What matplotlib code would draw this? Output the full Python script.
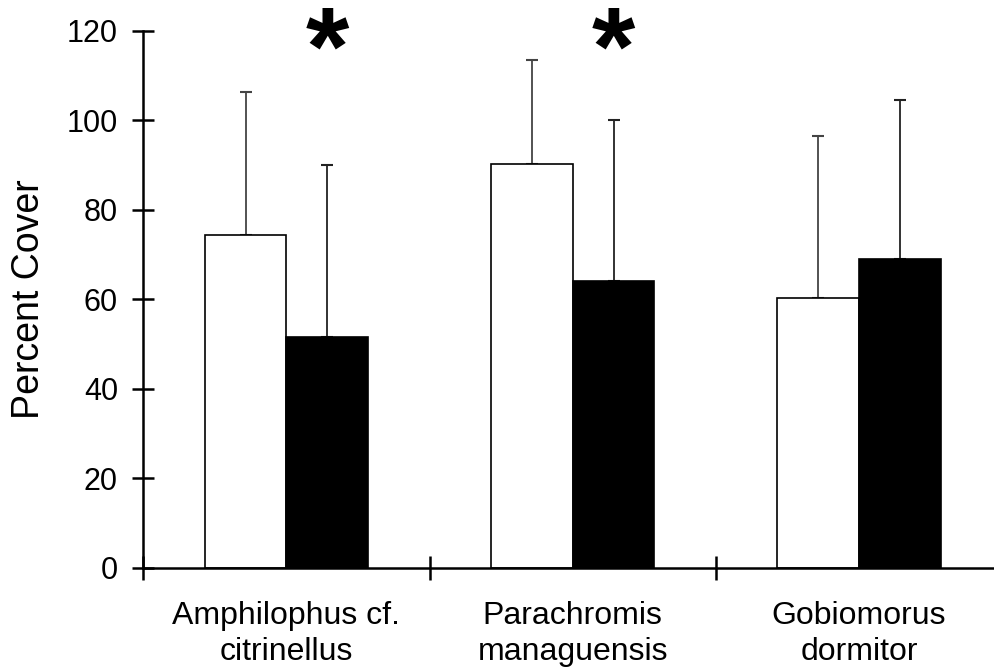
import matplotlib.pyplot as plt
import numpy as np

plt.rcParams['font.family'] = ['Liberation Sans', 'DejaVu Sans']

# Data
species = ['Amphilophus cf.\ncitrinellus', 'Parachromis\nmanaguensis', 'Gobiomorus\ndormitor']
white_means = [74.3, 90.3, 60.3]
white_err = [32.1, 23.2, 36.2]
black_means = [51.5, 64.0, 69.0]
black_err = [38.4, 36.1, 35.6]
significant = [True, True, False]

fig = plt.figure(figsize=(9.95, 6.69), dpi=100)
ax = fig.add_axes([0.144, 0.1514, 0.856, 0.8027])

x = np.arange(len(species))
w = 0.285

ax.bar(x - w / 2, white_means, w, color='white', edgecolor='black', linewidth=1.2, zorder=2)
ax.bar(x + w / 2, black_means, w, color='black', edgecolor='black', linewidth=1.2, zorder=2)

# upper error bars only
ax.errorbar(x - w / 2, white_means, yerr=[np.zeros(3), white_err], fmt='none',
            ecolor='#444444', elinewidth=1.3, capsize=4, capthick=1.5, zorder=1)
ax.errorbar(x + w / 2, black_means, yerr=[np.zeros(3), black_err], fmt='none',
            ecolor='#222222', elinewidth=1.3, capsize=4, capthick=1.5, zorder=1)

# significance marks above the black bars
for xi, sig in zip(x, significant):
    if sig:
        ax.text(xi + w / 2, 114.5, '*', ha='center', va='center',
                fontsize=80, fontweight='bold', clip_on=False)

ax.set_xlim(-0.5, 2.475)
ax.set_ylim(0, 120)
ax.set_yticks(np.arange(0, 121, 20))
ax.tick_params(axis='y', direction='inout', length=16.5, width=1.8, labelsize=22, pad=10)

ax.set_xticks(x)
ax.set_xticklabels(species, linespacing=1.25)
ax.set_xticks([-0.5, 0.5, 1.5], minor=True)
ax.tick_params(axis='x', which='major', length=0, labelsize=23, pad=24)
ax.tick_params(axis='x', which='minor', direction='inout', length=17, width=1.8)

for s in ['top', 'right']:
    ax.spines[s].set_visible(False)
for s in ['left', 'bottom']:
    ax.spines[s].set_linewidth(1.8)

ax.set_ylabel('Percent Cover', fontsize=27, labelpad=14)

fig.savefig('out.png', dpi=100)
